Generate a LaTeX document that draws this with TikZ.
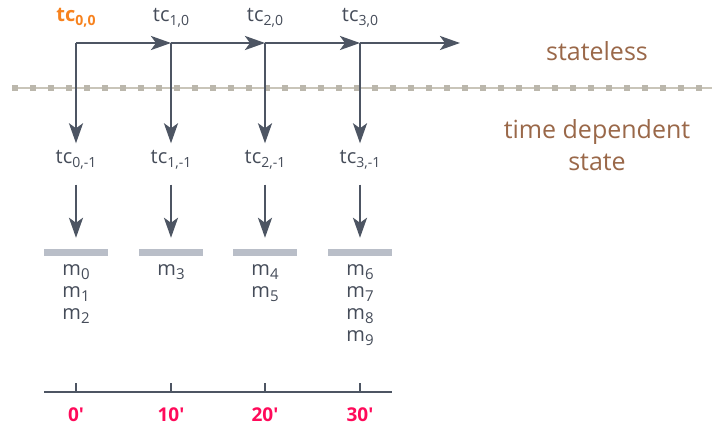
\documentclass[tikz,border=0pt]{standalone}
\usepackage{fontspec}
\setmainfont{Open Sans}[Ligatures=TeXOff]
\usetikzlibrary{arrows.meta}
\definecolor{slate}{HTML}{4D5563}
\definecolor{orng}{HTML}{F7821E}
\definecolor{pinkred}{HTML}{FF0A5A}
\definecolor{brwn}{HTML}{9A6849}
\definecolor{bargray}{HTML}{B9BEC8}
\definecolor{dotgray}{HTML}{C9C5B9}
\newcommand\lsub[1]{\raisebox{-4pt}{\fontsize{14}{14}\selectfont #1}}
\newcommand\msub[1]{\raisebox{-4pt}{\fontsize{15}{15}\selectfont #1}}
\tikzset{
  arr/.style={draw=slate, line width=2.6pt, -{Stealth[length=20pt,width=14pt,inset=5pt]}},
  tclabel/.style={inner sep=0pt, text=slate!90!black, font=\fontsize{20}{24}\selectfont},
  barbox/.style={fill=bargray, minimum width=64pt, minimum height=7pt, inner sep=0pt},
  mlabel/.style={inner sep=0pt, anchor=north, align=center, text=slate!90!black, font=\fontsize{20}{22}\selectfont},
  axislabel/.style={text=pinkred, font=\bfseries\fontsize{19}{20}\selectfont},
  sidelabel/.style={text=brwn, align=center, font=\fontsize{25}{32}\selectfont},
}
\begin{document}
\begin{tikzpicture}[x=1pt,y=1pt]
\useasboundingbox[fill=white] (0,0) rectangle (712,-427);
% dotted separator
\coordinate (d0) at (13,-88);
\coordinate (d1) at (712,-88);
\draw[dotgray, line width=1.3pt] (d0) -- (d1);
\foreach \i in {0,...,38}{
  \fill[dotgray!93!black] ({15+18*\i-2.6},-88-2.6) rectangle ++(5.2,5.2);
}
% horizontal chain
\coordinate (h0) at (76,-43);
\coordinate (h1) at (171,-43);
\coordinate (h2) at (265,-43);
\coordinate (h3) at (360,-43);
\coordinate (h4) at (460,-43);
\draw[arr] (h0) -- (h1);
\draw[arr] (h1) -- (h2);
\draw[arr] (h2) -- (h3);
\draw[arr] (h3) -- (h4);
% top labels
\node[tclabel, text=orng, font=\bfseries\fontsize{20}{24}\selectfont] (tc00) at (76,-18) {tc\lsub{0,0}};
\node[tclabel] (tc10) at (171,-18) {tc\lsub{1,0}};
\node[tclabel] (tc20) at (265,-18) {tc\lsub{2,0}};
\node[tclabel] (tc30) at (360,-18) {tc\lsub{3,0}};
% lower labels
\node[tclabel] (tcm0) at (76,-160) {tc\lsub{0,-1}};
\node[tclabel] (tcm1) at (171,-160) {tc\lsub{1,-1}};
\node[tclabel] (tcm2) at (265,-160) {tc\lsub{2,-1}};
\node[tclabel] (tcm3) at (360,-160) {tc\lsub{3,-1}};
% bars
\node[barbox] (bar0) at (76,-252.5) {};
\node[barbox] (bar1) at (171,-252.5) {};
\node[barbox] (bar2) at (265,-252.5) {};
\node[barbox] (bar3) at (360,-252.5) {};
% vertical arrows
\foreach \i in {0,1,2,3}{
  \draw[arr, line cap=butt] (h\i) -- ([yshift=7pt]tcm\i.north);
  \draw[arr] ([yshift=-15pt]tcm\i.south) -- ([yshift=11pt]bar\i.north);
}
% message labels
\node[mlabel] (m0) at (76,-264) {m\msub{0}\\m\msub{1}\\m\msub{2}};
\node[mlabel] (m1) at (171,-264) {m\msub{3}};
\node[mlabel] (m2) at (265,-264) {m\msub{4}\\m\msub{5}};
\node[mlabel] (m3) at (360,-264) {m\msub{6}\\m\msub{7}\\m\msub{8}\\m\msub{9}};
% axis
\coordinate (a0) at (44,-392);
\coordinate (a1) at (392,-392);
\draw[slate, line width=2pt] (a0) -- (a1);
\foreach \x/\n in {76/0,171/10,265/20,360/30}{
  \coordinate (t\n) at (\x,-392);
  \draw[slate, line width=2pt] (t\n) -- ++(0,9);
  \node[axislabel] (l\n) at (\x,-415) {\n'};
}
% side labels
\node[sidelabel] (sl) at (597,-51) {stateless};
\node[sidelabel] (tdl) at (597,-145) {time dependent\\state};
\end{tikzpicture}
\end{document}
